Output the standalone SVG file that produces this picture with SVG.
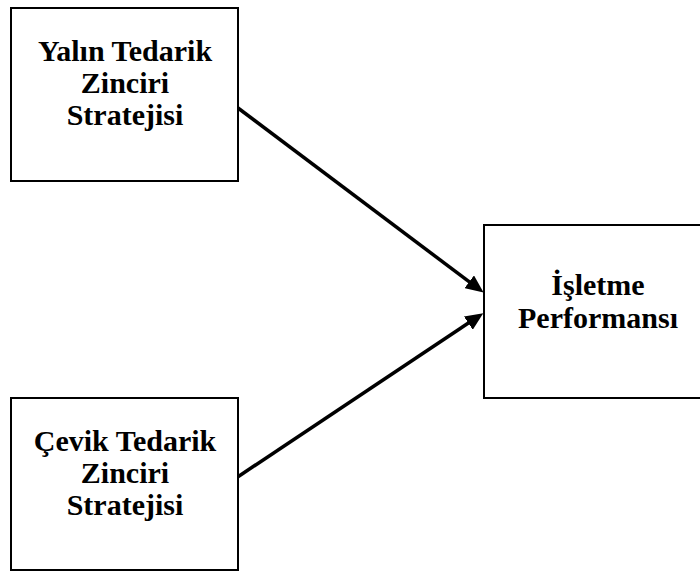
<svg xmlns="http://www.w3.org/2000/svg" width="700" height="571" viewBox="0 0 700 571">
<style>
.box{fill:#fff;stroke:#000;stroke-width:2}
.lbl{font-family:"Liberation Serif","Times New Roman",serif;font-weight:bold;font-size:30px;fill:#000;text-anchor:middle}
.conn{stroke:#000;stroke-width:3.5;fill:none}
</style>
<defs>
<marker id="ah" markerUnits="userSpaceOnUse" markerWidth="20" markerHeight="16" refX="6" refY="8" orient="auto">
<path d="M0,0 L18,8 L0,16 z" fill="#000"/>
</marker>
</defs>
<rect width="700" height="571" fill="#fff"/>
<g id="yalin">
<rect class="box" x="11" y="8" width="227" height="173"/>
<text class="lbl" x="125" y="61">Yalın Tedarik</text>
<text class="lbl" x="125" y="93">Zinciri</text>
<text class="lbl" x="125" y="125">Stratejisi</text>
</g>
<g id="cevik">
<rect class="box" x="11" y="398" width="227" height="172"/>
<text class="lbl" x="125" y="451">Çevik Tedarik</text>
<text class="lbl" x="125" y="483">Zinciri</text>
<text class="lbl" x="125" y="515">Stratejisi</text>
</g>
<g id="isletme">
<rect class="box" x="484" y="225" width="230" height="173"/>
<text class="lbl" x="598" y="295">İşletme</text>
<text class="lbl" x="598" y="328">Performansı</text>
</g>
<g id="connectors">
<line class="conn" x1="238" y1="108" x2="474" y2="285.4" marker-end="url(#ah)"/>
<line class="conn" x1="238" y1="476.7" x2="473.3" y2="319.8" marker-end="url(#ah)"/>
</g>
</svg>
